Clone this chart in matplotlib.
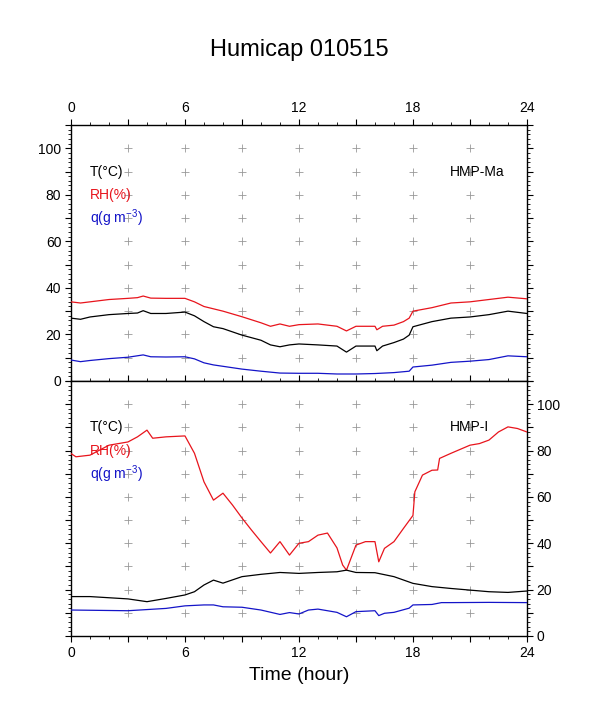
import matplotlib
matplotlib.use('Agg')
import matplotlib.pyplot as plt
import matplotlib.ticker as ticker
import numpy as np

plt.rcParams['font.family'] = ['Liberation Sans', 'DejaVu Sans']
plt.rcParams['mathtext.fontset'] = 'custom'
plt.rcParams['mathtext.rm'] = 'Liberation Sans'
plt.rcParams['mathtext.it'] = 'Liberation Sans'

# HMP-Ma (upper panel)
ma_rh_hour = [0, 0.5, 1, 2, 3, 3.5, 3.8, 4.2, 5, 6, 6.5, 7, 7.5, 8, 9, 10, 10.5, 11, 11.5, 12,
              13, 14, 14.5, 15, 16, 16.1, 16.4, 17, 17.5, 17.8, 18, 19, 20, 21, 22, 23, 24]
ma_rh = [34, 33.5, 34, 35, 35.5, 35.8, 36.5, 35.6, 35.5, 35.5, 34, 32, 31, 30, 27.6, 25, 23.5, 24.5, 23.5, 24.2,
         24.5, 23.5, 21.5, 23.5, 23.5, 22, 23.5, 24, 25.5, 27, 30, 31.5, 33.5, 34, 35, 36, 35.3]

ma_t_hour = [0, 0.5, 1, 2, 3, 3.5, 3.8, 4.2, 5, 6, 6.5, 7, 7.5, 8, 9, 10, 10.5, 11, 11.5, 12,
             13, 14, 14.5, 15, 16, 16.1, 16.4, 17, 17.5, 17.8, 18, 19, 20, 21, 22, 23, 24]
ma_t = [27, 26.5, 27.5, 28.5, 29, 29.2, 30.2, 29, 29, 29.6, 28, 25.5, 23.3, 22.5, 19.7, 17.5, 15.5, 14.7, 15.5, 15.9,
        15.5, 15, 12.4, 15, 15, 13, 15, 16.5, 18, 19.7, 23.3, 25.5, 27, 27.5, 28.5, 30, 29]

ma_q_hour = [0, 0.5, 1, 2, 3, 3.8, 4.2, 5, 6, 6.5, 7, 7.5, 8, 9, 10, 11, 12, 13, 14, 15, 16, 17, 17.8, 18,
             19, 20, 21, 22, 23, 24]
ma_q = [9, 8.3, 8.8, 9.6, 10.2, 11.2, 10.4, 10.3, 10.4, 9.5, 7.8, 6.9, 6.3, 5.1, 4.2, 3.4, 3.3, 3.3, 3.0, 3.0, 3.2, 3.6, 4.2, 6,
        6.8, 8, 8.5, 9.2, 10.8, 10.4]

# HMP-I (lower panel)
i_rh_hour = [0, 0.26, 1, 2, 3, 3.5, 4, 4.3, 5, 6, 6.5, 7, 7.5, 8, 8.5, 9, 9.5, 10, 10.5, 11, 11.5, 12,
             12.5, 13, 13.5, 14, 14.3, 14.5, 15, 15.5, 16, 16.2, 16.5, 17, 17.5, 18, 18.1, 18.5, 19, 19.3,
             19.4, 20, 21, 21.5, 22, 22.5, 23, 23.5, 24]
i_rh = [78.7, 77.3, 78, 82.3, 83.7, 85.9, 88.8, 85.3, 85.9, 86.3, 78.8, 66.5, 58.6, 61.6, 56.5, 50.9, 45.7, 40.7, 35.8, 40.7, 34.9, 40,
        40.7, 43.5, 44.4, 38, 30.6, 28.4, 39.2, 40.7, 40.7, 32, 37.8, 40.7, 46.4, 52, 62.2, 69.4, 71.5, 71.6,
        76.6, 78.8, 82.3, 83, 84.5, 88, 90.2, 89.5, 88]

i_t_hour = [0, 1, 2, 3, 4, 5, 6, 6.5, 7, 7.5, 8, 9, 10, 11, 12, 13, 14, 14.5, 15, 16, 17, 18, 19, 20, 21, 22, 23, 24]
i_t = [17, 17, 16.5, 16, 14.8, 16.2, 17.7, 19.1, 22, 24.1, 22.8, 25.6, 26.6, 27.4, 27, 27.4, 27.7, 28.4, 27.4, 27.3,
       25.6, 22.7, 21.3, 20.5, 19.8, 19.1, 18.8, 19.4]

i_q_hour = [0, 3, 5, 6, 7, 7.5, 8, 9, 10, 11, 11.5, 12, 12.5, 13, 14, 14.5, 15, 16, 16.2, 16.5, 17, 17.8, 18,
            19, 19.5, 20, 22, 24]
i_q = [11.2, 10.9, 11.9, 13, 13.4, 13.4, 12.6, 12.4, 11.2, 9.3, 10.1, 9.5, 11.2, 11.6, 10.2, 8.3, 10.5, 10.9, 8.8, 9.8,
       10.2, 12, 13.4, 13.6, 14.4, 14.4, 14.5, 14.4]

panels = [
    ('HMP-Ma', ma_t_hour, ma_t, ma_rh_hour, ma_rh, ma_q_hour, ma_q),
    ('HMP-I', i_t_hour, i_t, i_rh_hour, i_rh, i_q_hour, i_q),
]

fig = plt.figure(figsize=(5.98, 7.08), dpi=100)
ax_top = fig.add_axes([0.1187, 0.4619, 0.7625, 0.3616])
ax_bot = fig.add_axes([0.1187, 0.1017, 0.7625, 0.3602])

cross_x, cross_y = np.meshgrid(np.arange(3, 22, 3), np.arange(10, 101, 10))


def y_label_fmt(v, pos):
    return f'{int(round(v))}' if round(v) % 20 == 0 else ''


for ax, (name, th, t, rh_h, rh, qh, q) in zip([ax_top, ax_bot], panels):
    ax.plot(cross_x.ravel(), cross_y.ravel(), '+', color='#999999', ms=6, mew=0.6, zorder=1)
    ax.plot(rh_h, rh, color='#e8141c', lw=0.9, zorder=3)
    ax.plot(th, t, color='black', lw=0.9, zorder=3)
    ax.plot(qh, q, color='#1414c8', lw=0.9, zorder=3)
    ax.set_xlim(0, 24)
    ax.set_ylim(0, 110)
    ax.xaxis.set_major_locator(ticker.MultipleLocator(3))
    ax.xaxis.set_minor_locator(ticker.MultipleLocator(1))
    ax.xaxis.set_major_formatter(ticker.FuncFormatter(
        lambda v, pos: f'{int(round(v))}' if round(v) % 6 == 0 else ''))
    ax.yaxis.set_major_locator(ticker.MultipleLocator(10))
    ax.yaxis.set_minor_locator(ticker.MultipleLocator(2))
    ax.yaxis.set_major_formatter(ticker.FuncFormatter(y_label_fmt))
    ax.tick_params(which='major', direction='out', length=4, width=0.8, labelsize=10,
                   top=True, right=True, bottom=True, left=True, pad=3)
    ax.tick_params(which='minor', direction='out', length=2, width=0.6,
                   top=True, right=True, bottom=True, left=True)
    for sp in ax.spines.values():
        sp.set_linewidth(1.0)

    ax.text(1.0, 90, 'T(°C)', color='black', fontsize=10, va='center', ha='left')
    ax.text(1.0, 80, 'RH(%)', color='#e8141c', fontsize=10, va='center', ha='left')
    ax.text(1.0, 70, r'q(g m$^{-3}$)', color='#1414c8', fontsize=10, va='center', ha='left')
    ax.text(19.95, 90, name, color='black', fontsize=10, va='center', ha='left')

ax_top.tick_params(labeltop=True, labelbottom=False, labelleft=True, labelright=False)
ax_bot.tick_params(labeltop=False, labelbottom=True, labelleft=False, labelright=True)
ax_bot.set_xlabel('Time (hour)', fontsize=14, labelpad=5)

fig.text(0.5, 0.930, 'Humicap 010515', ha='center', va='center', fontsize=17)

fig.savefig('out.png', dpi=100)
